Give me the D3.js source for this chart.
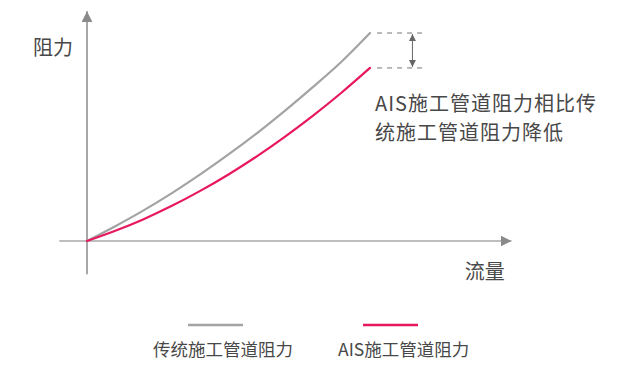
<!DOCTYPE html>
<html><head><meta charset="utf-8">
<script src="https://cdn.jsdelivr.net/npm/d3@7"></script>
<style>
html,body{margin:0;padding:0;background:#fff;}
svg{display:block;font-family:"Noto Sans CJK SC","Noto Sans",sans-serif;}
</style></head>
<body><div id="chart"></div>
<script>
// Data
const flow = [0,1,2,3,4,5,6,7,8,9,10];
const traditional = [0,0.71,1.47,2.30,3.20,4.16,5.18,6.27,7.42,8.63,10.0];
const ais = [0,0.49,1.05,1.69,2.41,3.20,4.07,5.02,6.04,7.14,8.32];
const seriesNames = ["传统施工管道阻力","AIS施工管道阻力"];
const seriesColors = ["#a3a3a3","#e8185e"];
const axisLabels = {x:"流量", y:"阻力"};
const noteLines = ["AIS施工管道阻力相比传","统施工管道阻力降低"];

const W=627,H=367;
const svg=d3.select("#chart").append("svg").attr("width",W).attr("height",H);
const x=d3.scaleLinear().domain([0,10]).range([87,370]);
const y=d3.scaleLinear().domain([0,10]).range([241,33]);

const axisColor="#8a8a8a";
const defs=svg.append("defs");
function marker(id,color,size){
  defs.append("marker").attr("id",id).attr("viewBox","0 0 10 10").attr("refX",10).attr("refY",5)
   .attr("markerWidth",size).attr("markerHeight",size).attr("orient","auto-start-reverse")
   .attr("markerUnits","userSpaceOnUse")
   .append("path").attr("d","M0,0 L10,5 L0,10 Z").attr("fill",color);
}
marker("arr",axisColor,11);
marker("arrs","#666",7);

// axes
svg.append("line").attr("x1",x(-0.98)).attr("x2",x(15.0)).attr("y1",y(0)).attr("y2",y(0))
  .attr("stroke","#a8a8a8").attr("stroke-width",1.5).attr("marker-end","url(#arr)");
svg.append("line").attr("x1",x(0)).attr("x2",x(0)).attr("y1",y(-1.6)).attr("y2",y(11.05))
  .attr("stroke",axisColor).attr("stroke-width",1.5).attr("marker-end","url(#arr)");

svg.append("text").attr("x",x(0)-54).attr("y",y(9.26)).attr("dy","0.35em")
  .attr("font-size",20).attr("fill","#484848").text(axisLabels.y);
svg.append("text").attr("x",x(13.35)).attr("y",y(-1.5)).attr("dy","0.35em")
  .attr("font-size",20).attr("fill","#484848").text(axisLabels.x);

// curves
const line=d3.line().x((d,i)=>x(flow[i])).y(d=>y(d)).curve(d3.curveMonotoneX);
[traditional,ais].forEach((s,k)=>{
  svg.append("path").attr("d",line(s)).attr("fill","none").attr("stroke",seriesColors[k])
   .attr("stroke-width",2.2).attr("stroke-linecap","round");
});

// difference annotation
const gEnd=traditional[traditional.length-1], aEnd=ais[ais.length-1];
[gEnd,aEnd].forEach(v=>{
  svg.append("line").attr("x1",x(10.25)).attr("x2",x(11.9)).attr("y1",y(v)).attr("y2",y(v))
   .attr("stroke","#777").attr("stroke-width",1).attr("stroke-dasharray","5,5");
});
svg.append("line").attr("x1",x(11.5)).attr("x2",x(11.5)).attr("y1",y(gEnd)+1).attr("y2",y(aEnd)-1)
  .attr("stroke","#666").attr("stroke-width",1)
  .attr("marker-start","url(#arrs)").attr("marker-end","url(#arrs)");

noteLines.forEach((t,i)=>{
  svg.append("text").attr("x",375).attr("y",103.5+i*29.5).attr("dy","0.35em")
   .attr("font-size",20).attr("letter-spacing",1).attr("fill","#484848").text(t);
});

// legend
const legX=[188,363], legTX=[153,338];
seriesNames.forEach((n,k)=>{
  svg.append("line").attr("x1",legX[k]).attr("x2",legX[k]+55).attr("y1",325).attr("y2",325)
   .attr("stroke",seriesColors[k]).attr("stroke-width",2.5);
  svg.append("text").attr("x",legTX[k]).attr("y",350).attr("dy","0.35em")
   .attr("font-size",17.5).attr("fill","#484848").text(n);
});
</script></body></html>
